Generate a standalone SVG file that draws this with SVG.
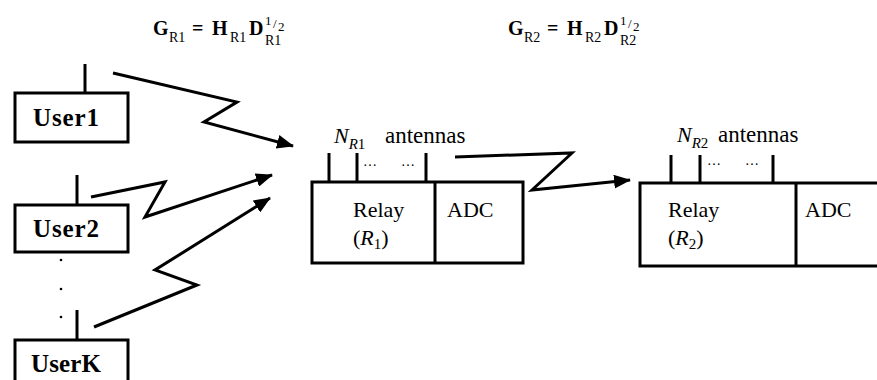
<svg xmlns="http://www.w3.org/2000/svg" width="877" height="380" viewBox="0 0 877 380" font-family="'Liberation Serif', 'Times New Roman', serif">
<style>
.box{fill:#fff;stroke:#000;stroke-width:3}
.ant{stroke:#000;stroke-width:3;fill:none}
.link{stroke:#000;stroke-width:3;fill:none}
text{font-family:"Liberation Serif","Times New Roman",serif;fill:#000}
.user{font-size:25px;font-weight:bold}
.lbl{font-size:22px}
.ant-l{font-size:23px}
.fb{font-size:20px;font-weight:bold}
.fs{font-size:14px;font-weight:normal}
.fsup{font-size:13px;font-weight:normal}
</style>
<defs>
<marker id="ah" markerUnits="userSpaceOnUse" markerWidth="18" markerHeight="14" refX="16" refY="7" orient="auto">
<path d="M0,0 L17,7 L0,14 Z" fill="#000"/>
</marker>
</defs>
<g id="formula1">
<text class="fb"><tspan x="153" y="35">G</tspan><tspan class="fs" x="169" y="42">R1</tspan><tspan x="192" y="35">=</tspan><tspan x="212" y="35">H</tspan><tspan class="fs" x="230" y="42">R1</tspan><tspan x="249" y="35">D</tspan><tspan class="fsup" x="265" y="25">1</tspan><tspan class="fsup" x="273" y="28">/</tspan><tspan class="fsup" x="278" y="31">2</tspan><tspan class="fs" x="265" y="45">R1</tspan></text>
</g>
<g id="formula2">
<text class="fb"><tspan x="508" y="35">G</tspan><tspan class="fs" x="524" y="42">R2</tspan><tspan x="547" y="35">=</tspan><tspan x="567" y="35">H</tspan><tspan class="fs" x="585" y="42">R2</tspan><tspan x="604" y="35">D</tspan><tspan class="fsup" x="620" y="25">1</tspan><tspan class="fsup" x="628" y="28">/</tspan><tspan class="fsup" x="633" y="31">2</tspan><tspan class="fs" x="620" y="45">R2</tspan></text>
</g>
<g id="user1">
<line class="ant" x1="85" y1="64" x2="85" y2="93"/>
<rect class="box" x="15" y="93" width="113" height="49"/>
<text class="user" x="33" y="126" textLength="66">User1</text>
</g>
<g id="user2">
<line class="ant" x1="77" y1="175" x2="77" y2="205"/>
<rect class="box" x="15" y="205" width="113" height="47"/>
<text class="user" x="33" y="237" textLength="66">User2</text>
</g>
<g id="dots">
<circle cx="61" cy="260" r="1.3" fill="#000"/>
<circle cx="61" cy="289" r="1.3" fill="#000"/>
<circle cx="61" cy="317" r="1.3" fill="#000"/>
</g>
<g id="userK">
<line class="ant" x1="77" y1="310" x2="77" y2="340"/>
<rect class="box" x="15" y="340" width="113" height="60"/>
<text class="user" x="31" y="372" textLength="70">UserK</text>
</g>
<g id="relay1">
<line class="ant" x1="329" y1="153" x2="329" y2="182"/>
<line class="ant" x1="357" y1="153" x2="357" y2="182"/>
<line class="ant" x1="426" y1="153" x2="426" y2="182"/>
<rect class="box" x="312" y="182" width="211" height="81"/>
<line class="ant" x1="435" y1="182" x2="435" y2="263"/>
<text class="lbl" x="334" y="143"><tspan font-style="italic">N</tspan><tspan font-size="15" dy="6" font-style="italic">R</tspan><tspan font-size="15">1</tspan></text>
<text class="ant-l" x="385" y="143">antennas</text>
<text class="fs" x="364" y="166" font-style="italic">…</text>
<text class="fs" x="402" y="166" font-style="italic">…</text>
<text class="lbl" x="353" y="217">Relay</text>
<text class="lbl" x="353" y="245">(<tspan font-style="italic">R</tspan><tspan font-size="15" dy="4">1</tspan><tspan dy="-4">)</tspan></text>
<text class="lbl" x="447" y="217">ADC</text>
</g>
<g id="relay2">
<line class="ant" x1="671" y1="155" x2="671" y2="183"/>
<line class="ant" x1="700" y1="155" x2="700" y2="183"/>
<line class="ant" x1="773" y1="155" x2="773" y2="183"/>
<rect class="box" x="640" y="183" width="260" height="83"/>
<line class="ant" x1="796" y1="183" x2="796" y2="266"/>
<text class="lbl" x="677" y="142"><tspan font-style="italic">N</tspan><tspan font-size="15" dy="6" font-style="italic">R</tspan><tspan font-size="15">2</tspan></text>
<text class="ant-l" x="718" y="142">antennas</text>
<text class="fs" x="708" y="165" font-style="italic">…</text>
<text class="fs" x="746" y="165" font-style="italic">…</text>
<text class="lbl" x="668" y="217">Relay</text>
<text class="lbl" x="668" y="245">(<tspan font-style="italic">R</tspan><tspan font-size="15" dy="4">2</tspan><tspan dy="-4">)</tspan></text>
<text class="lbl" x="805" y="217">ADC</text>
</g>
<g id="connectors">
<polyline class="link" points="113,73 237,102 204,122 293,146" marker-end="url(#ah)"/>
<polyline class="link" points="91,197 165,182 145,217 272,175" marker-end="url(#ah)"/>
<polyline class="link" points="94,327 197,285 155,270 270,198" marker-end="url(#ah)"/>
<polyline class="link" points="455,157 572,153 532,190 630,180" marker-end="url(#ah)"/>
</g>
</svg>
